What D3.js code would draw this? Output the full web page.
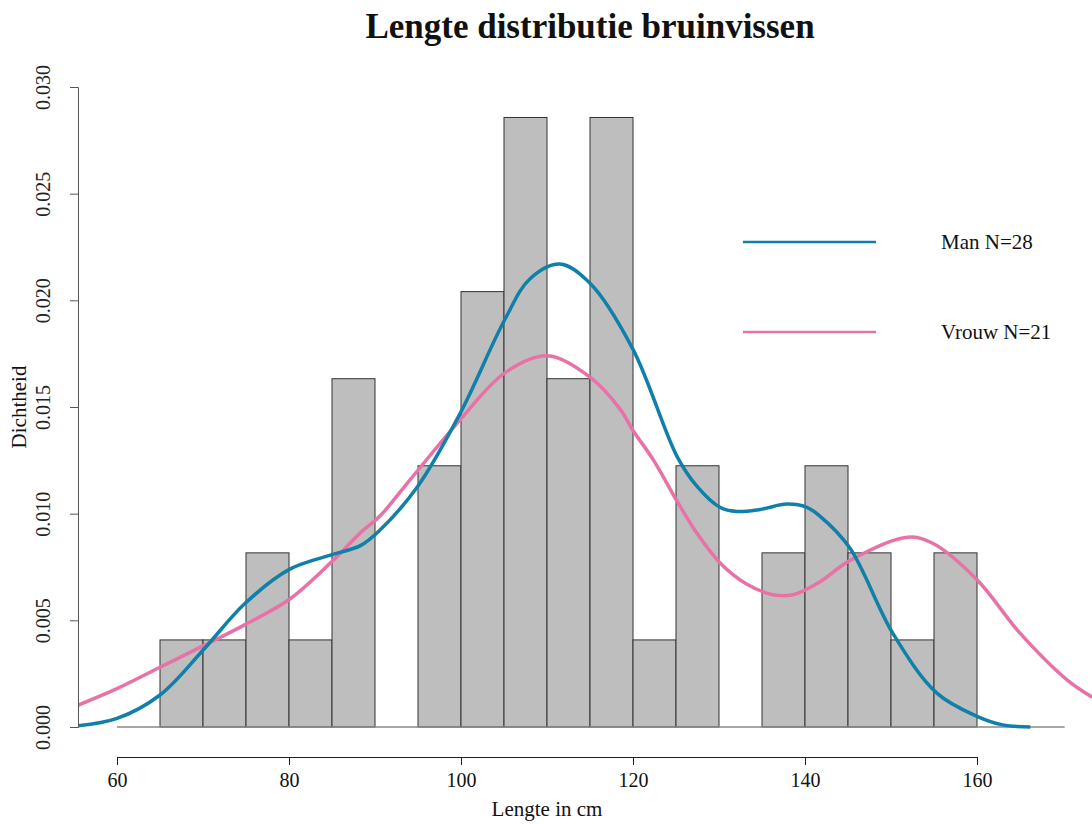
<!DOCTYPE html>
<html lang="nl">
<head>
<meta charset="UTF-8">
<title>Lengte distributie bruinvissen</title>
<script src="https://d3js.org/d3.v7.min.js"></script>
<style>
  body { margin: 0; background: #fff; }
  text { font-family: "Liberation Serif", "Times New Roman", serif; fill: #111; }
</style>
</head>
<body>
<div id="chart"></div>
<script>
// histogram bins (5 cm wide), counts out of 49 animals
const binStarts = [65, 70, 75, 80, 85, 90, 95, 100, 105, 110, 115, 120, 125, 130, 135, 140, 145, 150, 155];
const binCounts = [1, 1, 2, 1, 4, 0, 3, 5, 7, 4, 7, 1, 3, 0, 2, 3, 2, 1, 2];
const binWidth = 5;
const totalN = 49;

// density estimates
const manX = [55.5, 60, 65, 70, 74.9, 80.1, 85.2, 88.3, 90.5, 95, 99.9, 105.1, 108, 111.5, 115, 120, 125.1, 127.4, 130.1, 132.1, 134.8, 137.9, 140.2, 141.7, 145.2, 150.2, 155.3, 160, 163, 166.2];
const manY = [0.00006, 0.0004, 0.0015, 0.0036, 0.0058, 0.0074, 0.0081, 0.0085, 0.0092, 0.0113, 0.0147, 0.0191, 0.0210, 0.0217, 0.0208, 0.0177, 0.0127, 0.0113, 0.0103, 0.0101, 0.0102, 0.01045, 0.0103, 0.0099, 0.0084, 0.0044, 0.0016, 0.0005, 0.0001, 0.0];
const vrouwX = [55.5, 60, 65, 70, 74.9, 80.1, 85.1, 88.3, 90.6, 94.1, 99.9, 105.1, 110, 115, 118.5, 120, 122.4, 125.1, 127.4, 130.1, 133.2, 136.3, 138.6, 141.7, 145.2, 151.9, 154.9, 160, 165, 170.5, 173.4];
const vrouwY = [0.00103, 0.0018, 0.0028, 0.0038, 0.0048, 0.0060, 0.0078, 0.0091, 0.0099, 0.0116, 0.0144, 0.0166, 0.0174, 0.0164, 0.0149, 0.0139, 0.0125, 0.0106, 0.0091, 0.0077, 0.0067, 0.0062, 0.0062, 0.0068, 0.0078, 0.0089, 0.0086, 0.0069, 0.0044, 0.0022, 0.0014];

const seriesNames = ["Man N=28", "Vrouw N=21"];
const seriesColors = ["#1180a9", "#e872a6"];
const xTicks = [60, 80, 100, 120, 140, 160];
const yTicks = [0, 0.005, 0.010, 0.015, 0.020, 0.025, 0.030];

const W = 1092, H = 824;
const svg = d3.select("#chart").append("svg")
  .attr("width", W).attr("height", H);

const x = d3.scaleLinear().domain([60, 160]).range([117, 977]);
const y = d3.scaleLinear().domain([0, 0.03]).range([727, 87]);

svg.append("clipPath").attr("id", "plotclip")
  .append("rect").attr("x", 78).attr("y", 60).attr("width", W - 78).attr("height", 700);

// bars
svg.selectAll("rect.bar")
  .data(binStarts.map((s, i) => ({ start: s, count: binCounts[i] })).filter(d => d.count > 0))
  .enter().append("rect")
  .attr("class", "bar")
  .attr("x", d => x(d.start))
  .attr("y", d => y(d.count / (totalN * binWidth)))
  .attr("width", d => x(d.start + binWidth) - x(d.start))
  .attr("height", d => y(0) - y(d.count / (totalN * binWidth)))
  .attr("fill", "#bebebe")
  .attr("stroke", "#333")
  .attr("stroke-width", 1);

// zero line
svg.append("line")
  .attr("x1", x(60)).attr("x2", x(170.2))
  .attr("y1", y(0)).attr("y2", y(0))
  .attr("stroke", "#888").attr("stroke-width", 1.5);

// density curves
const line = d3.line().x(d => x(d[0])).y(d => y(d[1])).curve(d3.curveCatmullRom.alpha(0.5));
const curves = [d3.zip(manX, manY), d3.zip(vrouwX, vrouwY)];
svg.append("g").attr("clip-path", "url(#plotclip)")
  .selectAll("path")
  .data([curves[1], curves[0]])
  .enter().append("path")
  .attr("d", line)
  .attr("fill", "none")
  .attr("stroke", (d, i) => i === 0 ? seriesColors[1] : seriesColors[0])
  .attr("stroke-width", 3.5);

// y axis
const yAxis = svg.append("g")
  .attr("transform", "translate(78,0)")
  .call(d3.axisLeft(y).tickValues(yTicks).tickFormat(d3.format(".3f")).tickSize(8).tickPadding(0));
yAxis.select(".domain").attr("stroke", "#555");
yAxis.selectAll(".tick line").attr("stroke", "#555");
yAxis.selectAll(".tick text")
  .attr("font-size", 20)
  .attr("font-family", "Liberation Serif")
  .attr("text-anchor", "middle")
  .attr("x", 0).attr("dy", 0)
  .attr("transform", "translate(-22,0) rotate(-90)")
  .attr("y", -6)
  .style("fill", "#222");

// x axis
const xAxis = svg.append("g")
  .attr("transform", "translate(0,757)")
  .call(d3.axisBottom(x).tickValues(xTicks).tickSize(8).tickPadding(8).tickSizeOuter(0));
xAxis.select(".domain").attr("stroke", "#222");
xAxis.selectAll(".tick line").attr("stroke", "#222");
xAxis.selectAll(".tick text")
  .attr("font-size", 20)
  .attr("font-family", "Liberation Serif")
  .style("fill", "#111");

// titles
svg.append("text")
  .attr("x", 590).attr("y", 38)
  .attr("text-anchor", "middle")
  .attr("font-size", 35).attr("font-weight", "bold")
  .text("Lengte distributie bruinvissen");

svg.append("text")
  .attr("x", 547).attr("y", 816)
  .attr("text-anchor", "middle")
  .attr("font-size", 21)
  .text("Lengte in cm");

svg.append("text")
  .attr("transform", "translate(26,407) rotate(-90)")
  .attr("text-anchor", "middle")
  .attr("font-size", 21)
  .text("Dichtheid");

// legend
const legend = svg.append("g");
const legendY = [242, 332];
seriesNames.forEach((name, i) => {
  legend.append("line")
    .attr("x1", 743).attr("x2", 876)
    .attr("y1", legendY[i]).attr("y2", legendY[i])
    .attr("stroke", seriesColors[i])
    .attr("stroke-width", 2.5);
  legend.append("text")
    .attr("x", 941).attr("y", legendY[i] + 7)
    .attr("font-size", 21)
    .text(name);
});
</script>
</body>
</html>
